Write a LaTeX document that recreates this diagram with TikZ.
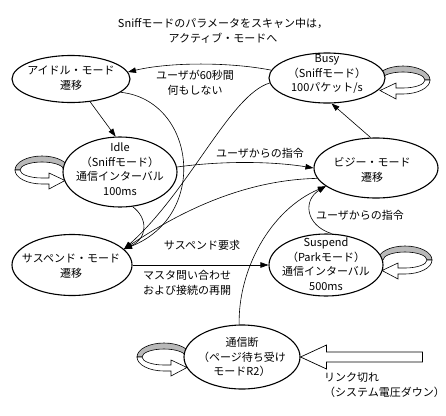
\documentclass[tikz,border=0pt]{standalone}
\usepackage{fontspec}
\setmainfont{Noto Sans CJK JP}
\usetikzlibrary{arrows.meta,shapes.geometric}
\tikzset{
  st/.style={ellipse, draw, line width=1.1pt, fill=white, inner sep=0pt},
  lbl/.style={align=center, inner sep=0pt, font=\fontsize{11}{14.5}\selectfont},
  conn/.style={line width=0.6pt, -{Triangle[length=8pt,width=5.5pt]}},
  band/.style={draw, line width=0.6pt, fill=#1},
}
\newcommand{\ribbonloop}[2]{%
  \begin{scope}[shift={#1}, xscale=#2]
    \path[band=gray!55] (4,0) arc[start angle=0, end angle=-180, x radius=27, y radius=14]
       -- (-45,0) arc[start angle=180, end angle=360, x radius=22, y radius=8] -- cycle;
    \path[band=white] (-50,0) arc[start angle=180, end angle=90, x radius=27, y radius=14]
       -- (-16,14) -- (-16,19) -- (0,10.5) -- (-16,3) -- (-16,8) -- (-23,8)
       arc[start angle=90, end angle=180, x radius=22, y radius=8] -- cycle;
  \end{scope}}
\begin{document}
\begin{tikzpicture}[x=1pt, y=1pt, yscale=-1]
\fill[white] (0,0) rectangle (446,415);
\useasboundingbox (0,0) rectangle (446,415);

% self loops (drawn first, ellipses cover their ends)
\ribbonloop{(65,170)}{1}
\ribbonloop{(187,357)}{1}
\ribbonloop{(380,80)}{-1}
\ribbonloop{(382,260)}{-1}

% states
\node[st, minimum width=118pt, minimum height=47pt] (idm) at (71,79) {};
\node[st, minimum width=116pt, minimum height=50pt] (busy) at (327,78) {};
\node[st, minimum width=114pt, minimum height=70pt] (idle) at (120,172) {};
\node[st, minimum width=124pt, minimum height=60pt] (bz) at (376,168) {};
\node[st, minimum width=120pt, minimum height=61pt] (susm) at (72,265) {};
\node[st, minimum width=114pt, minimum height=62pt] (sp) at (326,265) {};
\node[st, minimum width=116pt, minimum height=64pt] (tsd) at (242,357) {};

% state texts
\node[lbl] (tidm) at (71,78) {アイドル・モード\\遷移};
\node[lbl] (tbusy) at (327,74) {Busy\\（Sniffモード）\\100パケット/s};
\node[lbl] (tidle) at (120,169) {Idle\\（Sniffモード）\\通信インターバル\\100ms};
\node[lbl] (tbz) at (372,170) {ビジー・モード\\遷移};
\node[lbl] (tsusm) at (71,266) {サスペンド・モード\\遷移};
\node[lbl] (tsp) at (326,264) {Suspend\\（Parkモード）\\通信インターバル\\500ms};
\node[lbl] (ttsd) at (242,357) {通信断\\（ページ待ち受け\\モードR2）};

% free labels
\node[lbl] (top) at (223,31) {Sniffモードのパラメータをスキャン中は，\\アクティブ・モードへ};
\node[lbl] (l1) at (195,83) {ユーザが60秒間\\何もしない};
\node[lbl] (l2) at (260,153) {ユーザからの指令};
\node[lbl] (l3) at (202,245) {サスペンド要求};
\node[lbl] (l4) at (187,283) {マスタ問い合わせ\\および接続の再開};
\node[lbl] (l5) at (360,215) {ユーザからの指令};
\node[lbl, align=left, anchor=west] (l6) at (324,385) {リンク切れ\\（システム電圧ダウン）};

% connectors
\draw[conn] (busy.172) .. controls (230,62) and (170,62) .. (idm.7);
\draw[conn] (idm.-50) -- (idle.97);
\draw[conn] (idm.-15) .. controls (195,100) and (210,215) .. (susm.17);
\draw[conn] (busy.185) .. controls (230,95) and (190,190) .. (susm.17);
\draw[conn] (idle.5) .. controls (220,161) and (270,161) .. (bz.180);
\draw[conn] (bz.190) .. controls (240,180) and (175,215) .. (susm.17);
\draw[conn] (idle.-70) .. controls (148,218) and (148,238) .. (susm.17);
\draw[conn] (susm.east) -- (sp.west);
\draw[conn] (tsd.95) .. controls (238,270) and (270,210) .. (bz.200);
\draw[conn] (sp.80) .. controls (305,225) and (303,200) .. (bz.200);
\draw[conn] (bz.100) -- (busy.-80);

% hollow arrow: link lost
\draw[line width=0.7pt, fill=white] (tsd.east) -- ++(26,-12) -- ++(0,7) -- ++(96,0)
   -- ++(0,10) -- ++(-96,0) -- ++(0,7) -- cycle;
\end{tikzpicture}
\end{document}
